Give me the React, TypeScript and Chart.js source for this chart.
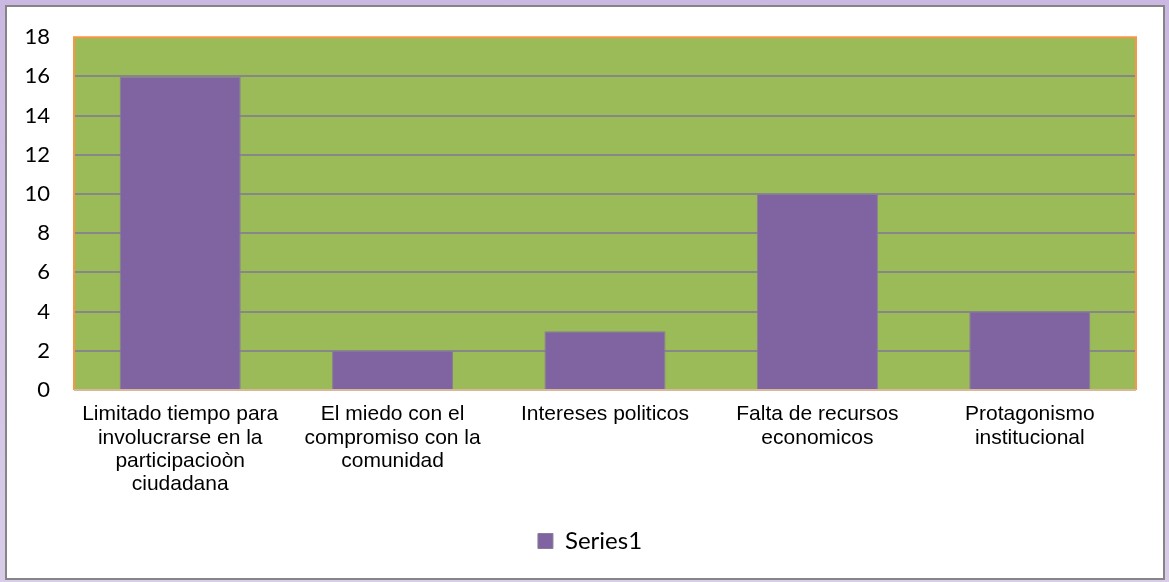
import React, { useEffect, useRef } from "react";
import { Chart, registerables } from "chart.js";

Chart.register(...registerables);

const categories: string[][] = [
  ["Limitado tiempo para", "involucrarse en la", "participacioòn", "ciudadana"],
  ["El miedo con el", "compromiso con la", "comunidad"],
  ["Intereses politicos"],
  ["Falta de recursos", "economicos"],
  ["Protagonismo", "institucional"],
];
const seriesName = "Series1";
const seriesValues: number[] = [16, 2, 3, 10, 4];
const yMin = 0;
const yMax = 18;
const yStep = 2;

const plotBackground = {
  id: "plotBackground",
  afterLayout(chart: any) {
    const lg = chart.legend;
    if (lg) {
      lg.left += 22;
      lg.right += 22;
    }
  },
  beforeDraw(chart: any) {
    const { ctx, chartArea } = chart;
    if (!chartArea) return;
    ctx.save();
    ctx.fillStyle = "#9BBB59";
    ctx.fillRect(chartArea.left, chartArea.top, chartArea.right - chartArea.left, chartArea.bottom - chartArea.top);
    ctx.restore();
  },
  afterDraw(chart: any) {
    const { ctx, chartArea } = chart;
    if (!chartArea) return;
    ctx.save();
    ctx.strokeStyle = "#F79646";
    ctx.lineWidth = 2;
    ctx.beginPath();
    ctx.moveTo(chartArea.left, chartArea.bottom);
    ctx.lineTo(chartArea.left, chartArea.top);
    ctx.lineTo(chartArea.right, chartArea.top);
    ctx.lineTo(chartArea.right, chartArea.bottom);
    ctx.stroke();
    ctx.strokeStyle = "#D8B898";
    ctx.beginPath();
    ctx.moveTo(chartArea.left, chartArea.bottom);
    ctx.lineTo(chartArea.right, chartArea.bottom);
    ctx.stroke();
    ctx.restore();
  },
};

export default function App() {
  const canvasRef = useRef<HTMLCanvasElement | null>(null);

  useEffect(() => {
    if (!canvasRef.current) return;
    const chart = new Chart(canvasRef.current, {
      type: "bar",
      data: {
        labels: categories,
        datasets: [
          {
            label: seriesName,
            data: seriesValues,
            backgroundColor: "#8064A2",
            borderColor: "#8A7C98",
            borderWidth: 1,
            barPercentage: 0.57,
            categoryPercentage: 1,
          },
        ],
      },
      options: {
        animation: false,
        responsive: false,
        maintainAspectRatio: false,
        layout: { padding: { left: 0, right: 33, top: 35, bottom: 19 } },
        plugins: {
          tooltip: { enabled: false },
          legend: {
            position: "bottom",
            labels: {
              boxWidth: 15,
              boxHeight: 15,
              padding: 10,
              color: "#000",
              font: { family: "Lato", size: 24 },
            },
          },
        },
        scales: {
          x: {
            afterFit(scale: any) {
              scale.height = 129;
            },
            grid: { display: false, drawTicks: false },
            border: { display: false },
            ticks: {
              autoSkip: false,
              maxRotation: 0,
              minRotation: 0,
              padding: 13,
              color: "#000",
              font: { family: "Liberation Sans", size: 21, lineHeight: "23.3px" },
            },
          },
          y: {
            min: yMin,
            max: yMax,
            afterFit(scale: any) {
              scale.width = 74;
            },
            grid: {
              drawTicks: false,
              lineWidth: 2,
              color: (c: any) =>
                c.tick && (c.tick.value === yMax || c.tick.value === yMin) ? "rgba(0,0,0,0)" : "#878787",
            },
            border: { display: false },
            ticks: {
              stepSize: yStep,
              padding: 24,
              color: "#000",
              font: { family: "Lato", size: 22 },
            },
          },
        },
      },
      plugins: [plotBackground],
    });
    return () => chart.destroy();
  }, []);

  return (
    <div
      style={{
        position: "absolute",
        left: 0,
        top: 0,
        width: 1169,
        height: 582,
        background: "linear-gradient(#cbb8e2, #d9cce9)",
        overflow: "hidden",
      }}
    >
      <div
        style={{
          position: "absolute",
          left: 5,
          top: 5,
          width: 1156,
          height: 571,
          border: "2px solid #858585",
          background: "#fff",
        }}
      />
      <canvas
        ref={canvasRef}
        width={1169}
        height={582}
        style={{ position: "absolute", left: 0, top: 0, width: 1169, height: 582 }}
      />
    </div>
  );
}
